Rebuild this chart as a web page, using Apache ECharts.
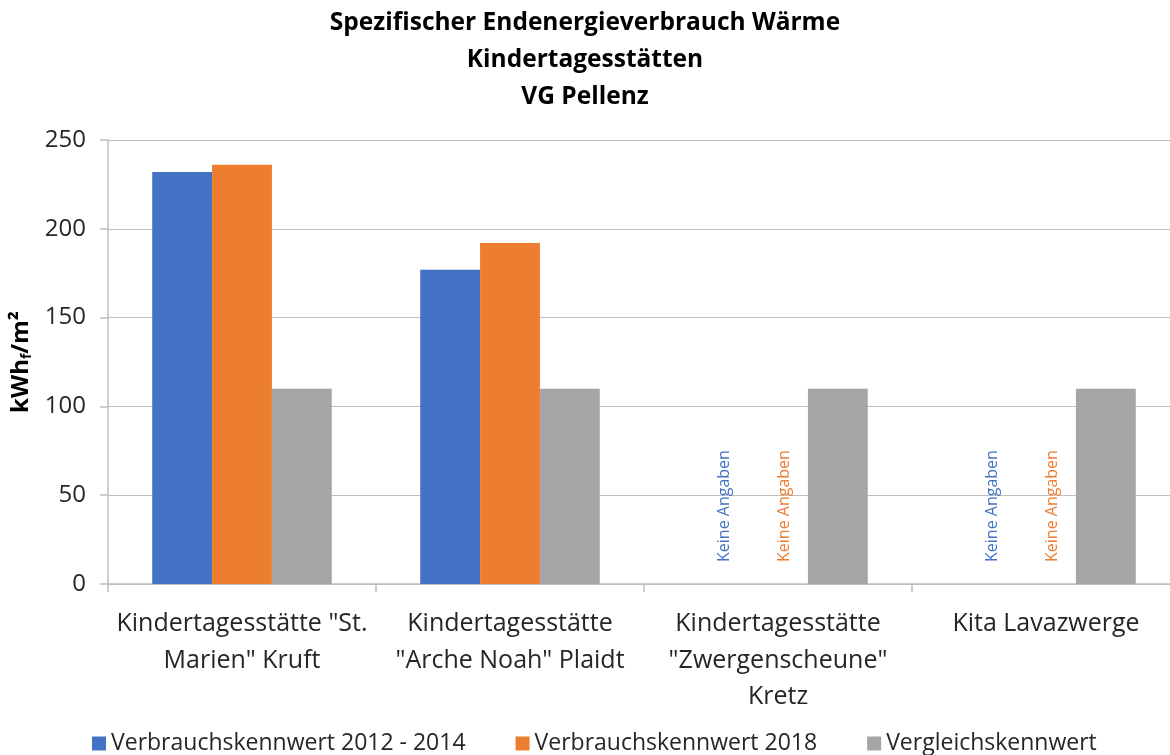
<!DOCTYPE html>
<html>
<head>
<meta charset="utf-8">
<script src="https://cdn.jsdelivr.net/npm/echarts@6/dist/echarts.min.js"></script>
<style>html,body{margin:0;padding:0;background:#fff;overflow:hidden}#c{width:1170px;height:755px}</style>
</head>
<body>
<div id="c"></div>
<script>
const categories = ['Kindertagesstätte "St.\nMarien" Kruft', 'Kindertagesstätte\n"Arche Noah" Plaidt', 'Kindertagesstätte\n"Zwergenscheune"\nKretz', 'Kita Lavazwerge'];
const seriesNames = ['Verbrauchskennwert 2012 - 2014', 'Verbrauchskennwert 2018', 'Vergleichskennwert'];
const values2012 = [232, 177, null, null];
const values2018 = [236, 192, null, null];
const valuesRef = [110, 110, 110, 110];
const noDataText = 'Keine Angaben';
const yTicks = [0, 50, 100, 150, 200, 250];

const FONT = 'Open Sans';
const colors = ['#4472C4', '#ED7D31', '#A5A5A5'];

function withNoData(arr, color) {
  return arr.map(v => v === null ? {
    value: 0,
    label: {
      show: true, formatter: noDataText, rotate: 90, position: 'insideBottom',
      align: 'left', verticalAlign: 'middle', distance: 22, offset: [0, 6],
      color: color, fontSize: 16, fontFamily: FONT
    }
  } : v);
}

const chart = echarts.init(document.getElementById('c'), null, {renderer: 'canvas'});
chart.setOption({
  animation: false,
  color: colors,
  title: {
    text: 'Spezifischer Endenergieverbrauch Wärme\nKindertagesstätten\nVG Pellenz',
    left: 'center', top: 0,
    textStyle: {fontFamily: FONT, fontWeight: 'bold', fontSize: 24.5, lineHeight: 37, color: '#000'}
  },
  legend: {
    left: 87, top: 727, itemWidth: 14, itemHeight: 14, itemGap: 50,
    icon: 'rect',
    textStyle: {fontFamily: FONT, fontSize: 23, color: '#262626'},
    data: seriesNames
  },
  grid: {left: 108, width: 1072, top: 140, bottom: 171, containLabel: false, outerBoundsMode: 'none'},
  xAxis: {
    type: 'category', data: categories,
    axisLine: {lineStyle: {color: '#bfbfbf', width: 1.5}},
    axisTick: {show: true, length: 8, lineStyle: {color: '#bfbfbf', width: 1.5}},
    axisLabel: {interval: 0, margin: 22, fontFamily: FONT, fontSize: 25, lineHeight: 36.5, color: '#262626'}
  },
  yAxis: {
    type: 'value', min: yTicks[0], max: yTicks[yTicks.length - 1], interval: 50,
    name: '{a|kWh}{b|f}{a|/m²}', nameLocation: 'middle', nameGap: 72, nameRotate: 90,
    nameTextStyle: {
      rich: {
        a: {fontFamily: FONT, fontWeight: 'bold', fontSize: 24, color: '#000'},
        b: {fontFamily: FONT, fontWeight: 'bold', fontSize: 14, color: '#000', padding: [12, 0, 0, 0]}
      }
    },
    axisLine: {show: true, lineStyle: {color: '#bfbfbf', width: 1.5}},
    axisTick: {show: true, length: 8, lineStyle: {color: '#bfbfbf', width: 1.5}},
    axisLabel: {margin: 22, fontFamily: FONT, fontSize: 24, color: '#262626'},
    splitLine: {lineStyle: {color: '#bfbfbf', width: 1.2}}
  },
  series: [
    {name: seriesNames[0], type: 'bar', data: withNoData(values2012, colors[0]), barGap: '0%', barCategoryGap: '33%'},
    {name: seriesNames[1], type: 'bar', data: withNoData(values2018, colors[1]), barGap: '0%', barCategoryGap: '33%'},
    {name: seriesNames[2], type: 'bar', data: valuesRef, barGap: '0%', barCategoryGap: '33%'}
  ]
});
</script>
</body>
</html>
